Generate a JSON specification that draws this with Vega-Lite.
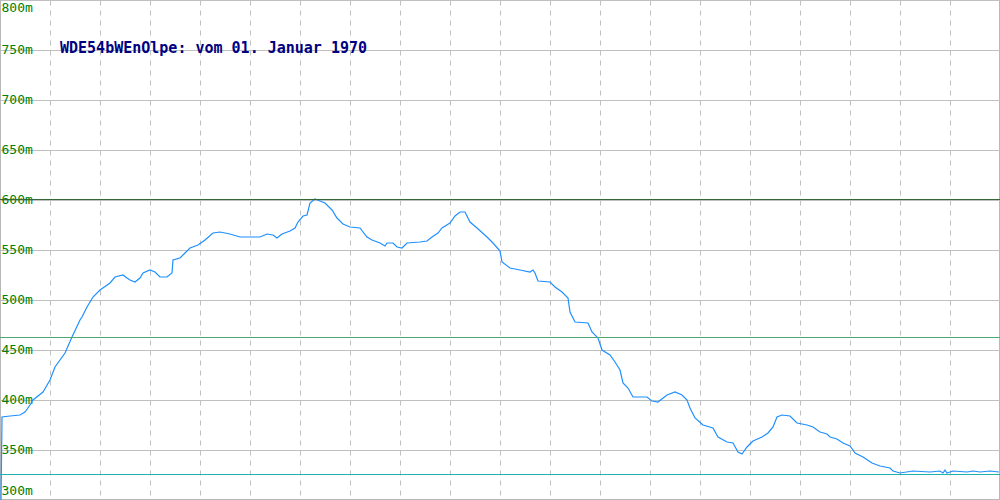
{
  "$schema": "https://vega.github.io/schema/vega-lite/v6.json",
  "width": 1000,
  "height": 500,
  "padding": 0,
  "autosize": {"type": "none"},
  "background": "white",
  "config": {"view": {"stroke": "#b8b8b8", "strokeWidth": 2}},
  "datasets": {
    "profile": [
      {"d": 1, "h": 300}, {"d": 2, "h": 383}, {"d": 10, "h": 384}, {"d": 20, "h": 385}, {"d": 25, "h": 388},
      {"d": 30, "h": 395}, {"d": 33, "h": 400}, {"d": 38, "h": 404}, {"d": 43, "h": 408}, {"d": 50, "h": 420},
      {"d": 55, "h": 433}, {"d": 65, "h": 447}, {"d": 72, "h": 463}, {"d": 80, "h": 480}, {"d": 82, "h": 483},
      {"d": 87, "h": 493}, {"d": 93, "h": 503}, {"d": 100, "h": 510}, {"d": 110, "h": 517}, {"d": 115, "h": 523},
      {"d": 123, "h": 525}, {"d": 127, "h": 522}, {"d": 130, "h": 520}, {"d": 135, "h": 518}, {"d": 140, "h": 522},
      {"d": 143, "h": 527}, {"d": 150, "h": 530}, {"d": 155, "h": 528}, {"d": 160, "h": 523}, {"d": 167, "h": 523},
      {"d": 172, "h": 527}, {"d": 173, "h": 540}, {"d": 180, "h": 542}, {"d": 185, "h": 547}, {"d": 190, "h": 552},
      {"d": 198, "h": 555}, {"d": 205, "h": 560}, {"d": 213, "h": 567}, {"d": 220, "h": 568}, {"d": 230, "h": 566},
      {"d": 240, "h": 563}, {"d": 250, "h": 563}, {"d": 260, "h": 563}, {"d": 267, "h": 566}, {"d": 273, "h": 565},
      {"d": 277, "h": 562}, {"d": 282, "h": 566}, {"d": 290, "h": 569}, {"d": 295, "h": 572}, {"d": 298, "h": 578},
      {"d": 303, "h": 584}, {"d": 307, "h": 585}, {"d": 310, "h": 597}, {"d": 315, "h": 601}, {"d": 320, "h": 599},
      {"d": 325, "h": 597}, {"d": 332, "h": 590}, {"d": 337, "h": 582}, {"d": 343, "h": 576}, {"d": 350, "h": 573},
      {"d": 360, "h": 572}, {"d": 367, "h": 563}, {"d": 372, "h": 560}, {"d": 380, "h": 557}, {"d": 385, "h": 554},
      {"d": 387, "h": 557}, {"d": 393, "h": 557}, {"d": 397, "h": 553}, {"d": 402, "h": 552}, {"d": 407, "h": 557},
      {"d": 420, "h": 558}, {"d": 427, "h": 559}, {"d": 432, "h": 563}, {"d": 438, "h": 567}, {"d": 442, "h": 572},
      {"d": 450, "h": 577}, {"d": 455, "h": 584}, {"d": 460, "h": 588}, {"d": 465, "h": 588}, {"d": 470, "h": 578},
      {"d": 477, "h": 572}, {"d": 487, "h": 563}, {"d": 493, "h": 557}, {"d": 500, "h": 549}, {"d": 502, "h": 538},
      {"d": 510, "h": 532}, {"d": 520, "h": 530}, {"d": 530, "h": 528}, {"d": 533, "h": 530}, {"d": 535, "h": 527},
      {"d": 538, "h": 519}, {"d": 550, "h": 518}, {"d": 555, "h": 513}, {"d": 562, "h": 508}, {"d": 568, "h": 502},
      {"d": 570, "h": 488}, {"d": 575, "h": 478}, {"d": 588, "h": 477}, {"d": 592, "h": 468}, {"d": 598, "h": 462},
      {"d": 602, "h": 450}, {"d": 610, "h": 445}, {"d": 615, "h": 438}, {"d": 620, "h": 430}, {"d": 623, "h": 417},
      {"d": 628, "h": 412}, {"d": 633, "h": 403}, {"d": 647, "h": 403}, {"d": 652, "h": 399}, {"d": 658, "h": 398},
      {"d": 667, "h": 405}, {"d": 675, "h": 408}, {"d": 682, "h": 405}, {"d": 687, "h": 400}, {"d": 690, "h": 392},
      {"d": 695, "h": 382}, {"d": 703, "h": 375}, {"d": 713, "h": 372}, {"d": 718, "h": 363}, {"d": 727, "h": 358},
      {"d": 733, "h": 357}, {"d": 738, "h": 348}, {"d": 742, "h": 346}, {"d": 747, "h": 353}, {"d": 753, "h": 359},
      {"d": 762, "h": 363}, {"d": 768, "h": 367}, {"d": 773, "h": 373}, {"d": 777, "h": 383}, {"d": 782, "h": 385},
      {"d": 790, "h": 384}, {"d": 797, "h": 377}, {"d": 807, "h": 375}, {"d": 813, "h": 373}, {"d": 820, "h": 368},
      {"d": 827, "h": 366}, {"d": 830, "h": 363}, {"d": 837, "h": 361}, {"d": 843, "h": 357}, {"d": 850, "h": 354},
      {"d": 853, "h": 350}, {"d": 855, "h": 347}, {"d": 863, "h": 343}, {"d": 872, "h": 337}, {"d": 880, "h": 334},
      {"d": 890, "h": 332}, {"d": 893, "h": 329}, {"d": 900, "h": 327}, {"d": 913, "h": 329}, {"d": 930, "h": 328},
      {"d": 940, "h": 329}, {"d": 943, "h": 327}, {"d": 945, "h": 330}, {"d": 947, "h": 327}, {"d": 953, "h": 329},
      {"d": 967, "h": 328}, {"d": 973, "h": 329}, {"d": 980, "h": 328}, {"d": 990, "h": 329}, {"d": 999, "h": 328}
    ],
    "refs": [
      {"h": 600.5, "kind": "max"},
      {"h": 462.5, "kind": "mid"},
      {"h": 325.5, "kind": "min"}
    ],
    "label": [
      {"d": 60, "h": 752, "text": "WDE54bWEnOlpe: vom 01. Januar 1970"}
    ]
  },
  "layer": [
    {
      "data": {"name": "profile"},
      "mark": {"type": "line", "color": "#1e90ff", "strokeWidth": 1.2, "clip": true},
      "encoding": {
        "x": {
          "field": "d", "type": "quantitative",
          "scale": {"domain": [0, 1000], "nice": false, "zero": false},
          "axis": {
            "values": [50, 100, 150, 200, 250, 300, 350, 400, 450, 500, 550, 600, 650, 700, 750, 800, 850, 900, 950],
            "grid": true, "gridColor": "#c0c0c0", "gridDash": [5, 5], "gridWidth": 1,
            "labels": false, "ticks": false, "domain": false, "title": null
          }
        },
        "y": {
          "field": "h", "type": "quantitative",
          "scale": {"domain": [300, 800], "nice": false, "zero": false},
          "axis": {
            "values": [300, 350, 400, 450, 500, 550, 600, 650, 700, 750, 800],
            "labelExpr": "datum.value + 'm'",
            "grid": true, "gridColor": "#c0c0c0", "gridWidth": 1,
            "ticks": false, "domain": false, "title": null,
            "labelAlign": "left", "labelPadding": -1,
            "labelFlush": true, "labelFlushOffset": -2, "labelOffset": -1,
            "labelColor": "#008000", "labelFont": "DejaVu Sans Mono", "labelFontSize": 13
          }
        }
      }
    },
    {
      "data": {"name": "refs"},
      "mark": {"type": "rule", "strokeWidth": 1},
      "encoding": {
        "y": {"field": "h", "type": "quantitative"},
        "color": {
          "field": "kind", "type": "nominal",
          "scale": {"domain": ["max", "mid", "min"], "range": ["#356835", "#4ea874", "#20b2aa"]},
          "legend": null
        }
      }
    },
    {
      "data": {"name": "label"},
      "mark": {"type": "text", "align": "left", "baseline": "middle", "font": "DejaVu Sans Mono", "fontWeight": "bold", "fontSize": 15, "color": "#000080"},
      "encoding": {
        "x": {"field": "d", "type": "quantitative"},
        "y": {"field": "h", "type": "quantitative"},
        "text": {"field": "text"}
      }
    }
  ]
}
